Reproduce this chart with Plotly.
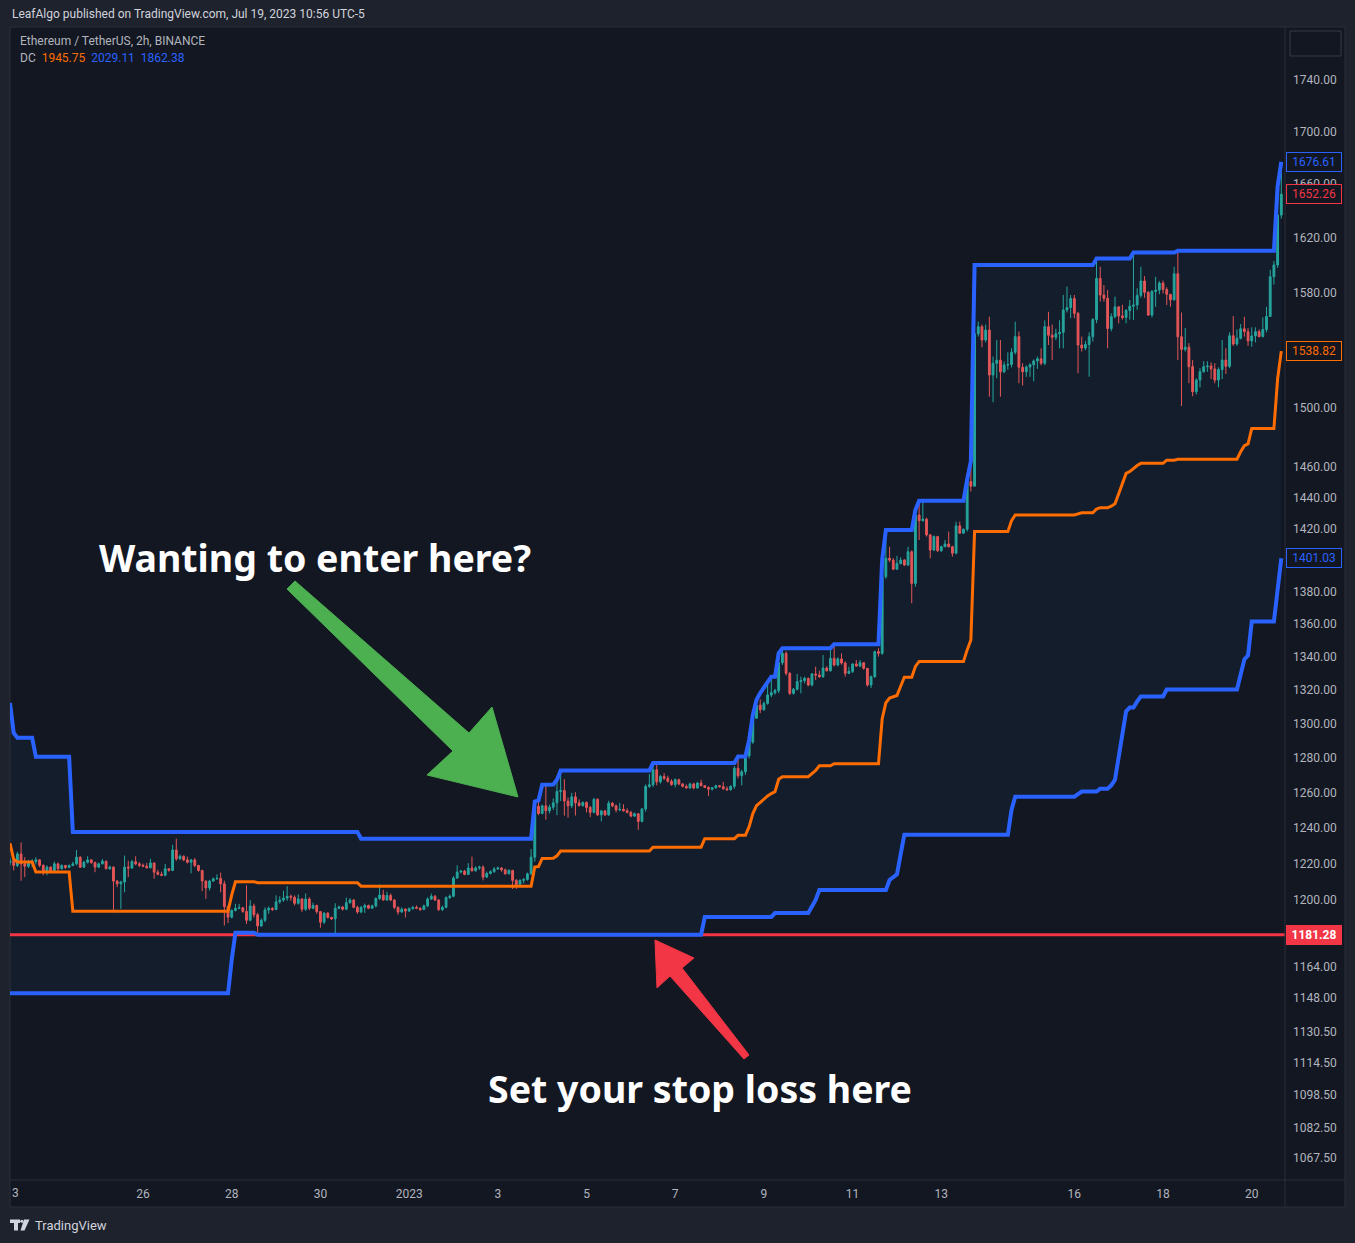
import numpy as np
import pandas as pd
import plotly.graph_objects as go

# ---------------- data (ETH/USDT, 2h bars) ----------------
START = "2022-12-23 00:00"
FIRST_OPEN = 1220.5

# one row = one day (12 bars of 2h)
CLOSE = [
    1221.5, 1218.9, 1225.3, 1219.8, 1218.5, 1220.5, 1221.0, 1222.0, 1219.0, 1215.2, 1218.0, 1215.5,
    1219.8, 1217.1, 1218.9, 1217.8, 1218.9, 1219.8, 1223.5, 1218.0, 1220.7, 1222.0, 1220.5, 1218.0,
    1219.8, 1221.3, 1217.1, 1218.0, 1210.3, 1208.8, 1209.8, 1218.0, 1217.5, 1221.0, 1219.8, 1219.0,
    1218.5, 1217.6, 1220.3, 1215.2, 1214.0, 1213.5, 1217.1, 1216.2, 1227.5, 1222.6, 1224.0, 1222.0,
    1220.7, 1222.0, 1218.9, 1216.2, 1210.3, 1206.6, 1210.3, 1211.6, 1211.8, 1208.8, 1196.4, 1190.7,
    1194.3, 1195.5, 1195.8, 1193.8, 1189.0, 1196.7, 1192.0, 1186.0, 1189.0, 1194.6, 1195.5, 1194.8,
    1199.0, 1200.0, 1201.0, 1202.0, 1201.5, 1198.2, 1200.5, 1195.0, 1200.5, 1195.5, 1197.0, 1193.7,
    1188.0, 1192.8, 1190.5, 1189.8, 1195.5, 1196.2, 1195.0, 1198.5, 1200.0, 1196.0, 1193.5, 1196.0,
    1197.0, 1195.5, 1196.8, 1200.8, 1202.7, 1200.0, 1202.5, 1200.0, 1196.0, 1193.5, 1195.0, 1194.0,
    1195.3, 1196.0, 1195.5, 1194.8, 1196.8, 1200.5, 1202.0, 1200.0, 1194.8, 1196.0, 1201.3, 1202.0,
    1212.0, 1215.3, 1215.8, 1214.0, 1217.5, 1216.0, 1217.5, 1218.0, 1212.5, 1214.5, 1215.5, 1217.0,
    1217.5, 1216.5, 1214.3, 1216.2, 1210.7, 1208.5, 1210.7, 1211.2, 1214.3, 1223.5, 1252.0, 1248.0,
    1252.3, 1249.5, 1251.5, 1254.0, 1260.5, 1261.0, 1255.0, 1252.3, 1257.4, 1254.0, 1252.5, 1254.2,
    1251.4, 1248.6, 1256.0, 1247.2, 1249.4, 1247.2, 1253.8, 1252.3, 1250.0, 1250.3, 1249.5, 1248.6,
    1246.5, 1247.8, 1243.5, 1250.5, 1263.4, 1264.3, 1272.9, 1266.0, 1269.1, 1268.0, 1266.3, 1264.4,
    1267.2, 1264.8, 1263.4, 1262.5, 1264.8, 1262.5, 1265.3, 1263.8, 1262.8, 1261.8, 1262.6, 1263.8,
    1263.2, 1262.0, 1261.5, 1263.4, 1273.8, 1269.5, 1271.8, 1281.0, 1289.0, 1303.0, 1310.8, 1308.0,
    1311.8, 1316.8, 1318.2, 1319.4, 1336.2, 1341.9, 1329.8, 1317.8, 1320.2, 1324.8, 1325.5, 1326.8,
    1322.8, 1329.4, 1328.8, 1327.8, 1333.0, 1331.4, 1338.9, 1334.8, 1338.5, 1336.0, 1329.8, 1331.0,
    1335.4, 1334.2, 1336.2, 1332.8, 1322.8, 1327.8, 1342.9, 1341.9, 1389.3, 1401.0, 1399.8, 1394.0,
    1397.7, 1399.8, 1396.7, 1405.1, 1385.1, 1428.7, 1425.0, 1426.0, 1415.9, 1406.2, 1414.8, 1405.8,
    1408.3, 1410.1, 1408.3, 1404.2, 1421.7, 1417.0, 1419.5, 1450.5, 1447.5, 1551.0, 1556.0, 1546.6,
    1553.6, 1522.3, 1530.4, 1532.5, 1524.5, 1529.2, 1529.6, 1538.0, 1549.0, 1527.6, 1524.5, 1527.8,
    1529.4, 1532.0, 1533.5, 1530.4, 1556.0, 1550.0, 1548.5, 1551.0, 1552.0, 1567.8, 1569.5, 1576.0,
    1565.4, 1543.1, 1541.0, 1543.5, 1548.9, 1561.0, 1590.4, 1578.5, 1576.1, 1554.7, 1563.0, 1570.0,
    1563.6, 1562.5, 1567.5, 1570.5, 1571.3, 1578.2, 1588.5, 1580.4, 1564.2, 1581.0, 1582.0, 1587.0,
    1582.5, 1579.0, 1575.0, 1593.8, 1548.9, 1540.0, 1541.6, 1528.0, 1510.8, 1518.8, 1524.5, 1528.0,
    1528.5, 1526.5, 1518.8, 1526.0, 1532.6, 1528.3, 1549.6, 1543.8, 1547.8, 1554.5, 1552.5, 1546.0,
    1549.5, 1552.5, 1549.0, 1554.0, 1563.2, 1591.6, 1600.1, 1636.7, 1652.26,
]
HIGH = [
    1223.0, 1222.8, 1226.5, 1231.7, 1223.5, 1222.0, 1222.5, 1223.5, 1222.5, 1219.5, 1219.0, 1218.5,
    1221.0, 1220.5, 1219.5, 1219.3, 1219.5, 1221.0, 1227.5, 1224.0, 1221.5, 1224.0, 1222.3, 1221.0,
    1220.5, 1222.5, 1221.5, 1218.8, 1218.5, 1211.0, 1210.5, 1224.4, 1221.5, 1222.0, 1224.0, 1220.8,
    1220.0, 1220.3, 1222.6, 1220.5, 1216.5, 1215.5, 1219.8, 1217.5, 1230.4, 1233.8, 1225.0, 1224.5,
    1223.8, 1222.5, 1223.0, 1219.3, 1216.5, 1210.8, 1211.0, 1212.2, 1214.0, 1215.0, 1210.5, 1197.0,
    1195.0, 1197.9, 1197.9, 1196.2, 1208.0, 1200.0, 1198.0, 1193.0, 1190.0, 1196.0, 1196.5, 1196.0,
    1202.5, 1202.0, 1205.0, 1207.5, 1203.0, 1202.5, 1203.0, 1201.0, 1203.5, 1201.5, 1198.5, 1197.5,
    1194.0, 1193.5, 1193.5, 1191.0, 1198.2, 1197.0, 1196.8, 1201.3, 1201.0, 1200.5, 1197.0, 1196.8,
    1198.0, 1197.5, 1197.5, 1201.5, 1208.5, 1205.5, 1204.5, 1203.5, 1200.5, 1196.5, 1196.0, 1195.5,
    1196.0, 1196.8, 1197.0, 1196.0, 1197.5, 1201.5, 1203.5, 1202.7, 1200.3, 1197.0, 1202.0, 1203.0,
    1213.0, 1219.0, 1216.5, 1216.5, 1220.2, 1223.8, 1218.5, 1218.8, 1219.0, 1215.5, 1216.3, 1218.0,
    1218.3, 1218.0, 1217.2, 1216.8, 1216.5, 1211.5, 1211.3, 1212.0, 1215.0, 1228.0, 1254.8, 1255.4,
    1253.0, 1264.3, 1253.0, 1256.5, 1267.2, 1272.5, 1267.5, 1257.0, 1259.7, 1260.0, 1256.0, 1254.8,
    1254.8, 1252.3, 1256.8, 1256.5, 1250.0, 1250.0, 1255.2, 1254.5, 1253.0, 1254.0, 1253.2, 1250.8,
    1249.5, 1248.5, 1248.2, 1251.0, 1264.5, 1270.5, 1276.8, 1276.0, 1270.0, 1271.0, 1269.5, 1267.5,
    1268.0, 1267.8, 1265.3, 1264.5, 1265.5, 1265.5, 1266.0, 1267.2, 1264.2, 1263.4, 1263.0, 1264.3,
    1264.2, 1266.0, 1263.4, 1264.0, 1275.0, 1280.6, 1273.0, 1282.0, 1290.3, 1305.0, 1313.8, 1314.2,
    1313.0, 1325.0, 1327.8, 1320.5, 1342.0, 1345.0, 1343.0, 1330.5, 1321.0, 1329.4, 1327.8, 1327.8,
    1327.2, 1330.0, 1333.8, 1331.4, 1340.9, 1334.0, 1343.9, 1347.4, 1339.5, 1341.9, 1337.0, 1333.8,
    1336.0, 1337.8, 1337.8, 1336.5, 1333.0, 1328.5, 1343.5, 1345.0, 1400.0, 1419.0, 1408.3, 1401.0,
    1402.5, 1401.6, 1400.5, 1408.3, 1406.0, 1432.0, 1438.0, 1437.9, 1427.0, 1416.5, 1415.5, 1415.3,
    1409.0, 1412.6, 1418.0, 1409.0, 1424.4, 1424.4, 1420.0, 1452.0, 1463.7, 1600.0, 1559.5, 1557.5,
    1557.5, 1563.0, 1535.0, 1546.6, 1546.6, 1531.5, 1538.0, 1540.8, 1559.5, 1552.5, 1530.4, 1529.0,
    1530.4, 1533.0, 1535.0, 1540.8, 1560.5, 1566.5, 1557.5, 1554.5, 1560.5, 1578.5, 1584.5, 1578.5,
    1578.5, 1566.5, 1549.0, 1546.0, 1552.0, 1562.0, 1604.8, 1598.8, 1585.6, 1582.1, 1565.4, 1577.3,
    1570.5, 1571.5, 1568.5, 1574.9, 1609.2, 1583.3, 1598.8, 1592.0, 1581.3, 1582.0, 1591.6, 1588.5,
    1588.8, 1584.0, 1578.0, 1598.8, 1610.4, 1566.0, 1555.0, 1544.5, 1532.6, 1520.0, 1527.0, 1531.8,
    1531.8, 1531.0, 1530.4, 1527.5, 1546.6, 1540.8, 1552.0, 1563.5, 1554.0, 1557.8, 1563.0, 1555.0,
    1555.5, 1555.5, 1554.0, 1562.5, 1570.0, 1596.5, 1603.0, 1658.0, 1676.61,
]
LOW = [
    1219.0, 1216.2, 1218.0, 1210.5, 1212.5, 1217.5, 1218.0, 1219.5, 1218.0, 1213.5, 1213.5, 1214.5,
    1215.0, 1216.0, 1216.8, 1217.0, 1217.5, 1218.5, 1219.0, 1217.5, 1217.5, 1220.0, 1219.8, 1215.2,
    1217.5, 1219.5, 1216.8, 1216.5, 1193.4, 1207.0, 1195.2, 1204.2, 1212.5, 1217.0, 1219.0, 1218.0,
    1218.0, 1217.2, 1217.4, 1211.6, 1213.5, 1213.0, 1213.0, 1215.5, 1215.8, 1221.5, 1222.0, 1221.3,
    1220.0, 1214.6, 1218.0, 1215.5, 1204.8, 1200.6, 1205.2, 1209.8, 1211.0, 1204.2, 1186.2, 1187.5,
    1190.0, 1193.8, 1195.0, 1193.0, 1187.0, 1188.5, 1190.5, 1181.28, 1185.5, 1188.0, 1192.5, 1194.0,
    1194.5, 1198.0, 1199.0, 1199.5, 1199.5, 1197.0, 1197.5, 1193.5, 1194.0, 1194.5, 1195.0, 1192.5,
    1185.0, 1187.0, 1190.0, 1189.2, 1181.8, 1195.0, 1194.3, 1194.5, 1198.0, 1195.5, 1192.5, 1192.8,
    1193.0, 1195.0, 1195.3, 1196.0, 1200.0, 1199.5, 1199.5, 1199.3, 1195.0, 1192.0, 1193.0, 1190.5,
    1193.5, 1194.8, 1195.0, 1194.0, 1194.5, 1196.0, 1200.0, 1199.5, 1194.0, 1194.0, 1195.5, 1200.5,
    1201.5, 1211.5, 1214.5, 1213.5, 1213.8, 1215.5, 1215.5, 1216.5, 1210.7, 1212.0, 1214.0, 1214.8,
    1216.5, 1215.5, 1213.8, 1214.0, 1206.0, 1206.0, 1208.0, 1209.0, 1210.5, 1213.8, 1221.0, 1247.0,
    1247.5, 1244.5, 1248.0, 1250.0, 1247.0, 1255.0, 1246.8, 1245.6, 1251.0, 1246.8, 1251.8, 1251.8,
    1248.6, 1245.9, 1248.0, 1246.5, 1243.5, 1246.5, 1246.5, 1251.5, 1248.6, 1249.3, 1249.0, 1248.0,
    1245.8, 1246.0, 1238.7, 1243.0, 1249.0, 1262.5, 1263.0, 1264.0, 1265.0, 1267.0, 1265.5, 1263.8,
    1262.8, 1264.0, 1262.8, 1262.0, 1262.0, 1261.8, 1262.0, 1263.4, 1262.4, 1257.8, 1261.0, 1262.0,
    1262.8, 1261.5, 1260.8, 1261.0, 1262.0, 1268.0, 1264.0, 1270.0, 1279.5, 1288.0, 1305.0, 1306.0,
    1307.5, 1311.0, 1315.5, 1317.0, 1318.0, 1334.8, 1328.5, 1316.8, 1317.0, 1319.5, 1317.8, 1323.8,
    1322.0, 1322.0, 1325.8, 1327.0, 1327.0, 1330.8, 1330.8, 1334.0, 1334.0, 1335.0, 1327.8, 1329.5,
    1330.0, 1333.8, 1333.5, 1332.0, 1321.8, 1321.0, 1327.0, 1339.9, 1341.0, 1388.0, 1398.5, 1393.5,
    1394.0, 1397.0, 1396.0, 1396.0, 1372.7, 1383.0, 1412.6, 1424.5, 1414.8, 1401.0, 1405.5, 1405.0,
    1405.0, 1408.0, 1407.8, 1402.0, 1403.5, 1416.5, 1416.5, 1418.0, 1444.0, 1449.0, 1549.0, 1541.5,
    1545.0, 1507.4, 1503.6, 1520.0, 1507.4, 1523.5, 1526.0, 1527.5, 1536.5, 1516.6, 1515.0, 1521.0,
    1521.0, 1518.0, 1526.5, 1529.0, 1529.0, 1543.1, 1532.6, 1546.6, 1540.8, 1540.8, 1566.0, 1562.0,
    1562.0, 1523.5, 1538.5, 1539.5, 1521.1, 1545.5, 1558.5, 1573.7, 1573.7, 1540.8, 1552.8, 1562.0,
    1558.3, 1561.0, 1558.3, 1561.0, 1560.7, 1568.0, 1576.5, 1576.5, 1563.6, 1562.5, 1570.0, 1579.0,
    1579.7, 1571.3, 1570.1, 1574.5, 1532.6, 1501.0, 1538.5, 1516.6, 1507.7, 1509.0, 1513.8, 1524.0,
    1524.5, 1519.5, 1516.6, 1513.8, 1519.5, 1523.0, 1527.0, 1542.5, 1542.5, 1547.0, 1549.0, 1542.5,
    1542.0, 1545.0, 1548.5, 1548.5, 1552.0, 1562.8, 1586.0, 1598.0, 1634.0,
]

# Donchian channel, (bar index, value) where the level changes
DC_UPPER = [(0, 1312.1), (1, 1294.4), (2, 1291.5), (6, 1291.5), (7, 1280.4), (16, 1280.4),
            (17, 1237.6), (94, 1237.6), (95, 1233.8), (141, 1233.8), (142, 1254.8), (143, 1255.4),
            (144, 1264.3), (147, 1264.5), (148, 1267.2), (149, 1272.5), (173, 1272.5), (174, 1276.8),
            (196, 1276.8), (197, 1280.6), (199, 1280.6), (200, 1290.3), (201, 1305.0), (202, 1314.0),
            (203, 1318.0), (204, 1321.0), (205, 1325.0), (206, 1327.8), (207, 1327.8), (208, 1342.0),
            (209, 1345.0), (222, 1345.0), (223, 1347.4), (235, 1347.4), (236, 1400.0), (237, 1419.0),
            (244, 1419.0), (245, 1432.0), (246, 1438.0), (258, 1438.0), (259, 1452.0), (260, 1464.0),
            (261, 1600.0), (293, 1600.0), (294, 1604.8), (303, 1604.8), (304, 1609.2), (315, 1609.2),
            (316, 1610.4), (342, 1610.4), (343, 1658.0), (344, 1676.61)]
DC_LOWER = [(0, 1150.3), (59, 1150.3), (60, 1168.0), (61, 1182.3), (66, 1182.3), (67, 1181.28),
            (187, 1181.28), (188, 1190.8), (206, 1190.8), (207, 1192.9), (216, 1192.9), (217, 1196.0),
            (218, 1200.0), (219, 1205.4), (237, 1205.4), (238, 1210.9), (239, 1212.5), (240, 1214.0),
            (241, 1225.0), (242, 1236.0), (270, 1236.0), (271, 1250.0), (272, 1257.5), (288, 1257.5),
            (289, 1259.0), (290, 1260.4), (294, 1260.4), (295, 1262.1), (297, 1262.1), (298, 1264.0),
            (299, 1267.2), (300, 1280.4), (301, 1295.0), (302, 1307.0), (303, 1309.4), (304, 1309.4),
            (305, 1313.0), (306, 1315.9), (312, 1315.9), (313, 1320.1), (332, 1320.1), (333, 1330.0),
            (334, 1338.2), (335, 1340.6), (336, 1361.4), (342, 1361.4), (343, 1381.3), (344, 1401.03)]
DC_BASIS = [(0, 1231.2), (1, 1222.35), (2, 1220.9), (6, 1220.9), (7, 1215.35), (16, 1215.35),
            (17, 1193.95), (59, 1193.95), (60, 1202.8), (61, 1209.95), (66, 1209.95), (67, 1209.44),
            (94, 1209.44), (95, 1207.54), (141, 1207.54), (142, 1218.04), (143, 1218.34), (144, 1222.79),
            (147, 1222.89), (148, 1224.24), (149, 1226.89), (173, 1226.89), (174, 1229.04), (187, 1229.04),
            (188, 1233.8), (196, 1233.8), (197, 1235.7), (199, 1235.7), (200, 1240.55), (201, 1247.9),
            (202, 1252.4), (203, 1254.4), (204, 1255.9), (205, 1257.9), (206, 1259.3), (207, 1260.35),
            (208, 1267.45), (209, 1268.95), (216, 1268.95), (217, 1270.5), (218, 1272.5), (219, 1275.2),
            (222, 1275.2), (223, 1276.4), (235, 1276.4), (236, 1302.7), (237, 1312.2), (238, 1314.95),
            (239, 1315.75), (240, 1316.5), (241, 1322.0), (242, 1327.5), (244, 1327.5), (245, 1334.0),
            (246, 1337.0), (258, 1337.0), (259, 1344.0), (260, 1350.0), (261, 1418.0), (270, 1418.0),
            (271, 1425.0), (272, 1428.75), (288, 1428.75), (289, 1429.5), (290, 1430.2), (293, 1430.2),
            (294, 1432.6), (295, 1433.45), (297, 1433.45), (298, 1434.4), (299, 1436.0), (300, 1442.6),
            (301, 1449.9), (302, 1455.9), (303, 1457.1), (304, 1459.3), (305, 1461.1), (306, 1462.55),
            (312, 1462.55), (313, 1464.65), (315, 1464.65), (316, 1465.25), (332, 1465.25), (333, 1470.2),
            (334, 1474.3), (335, 1475.5), (336, 1485.9), (342, 1485.9), (343, 1519.65), (344, 1538.82)]

STOP_LOSS = 1181.28
LAST_PRICE = 1652.26

Y_TICKS = [1740, 1700, 1660, 1620, 1580, 1540, 1500, 1460, 1440, 1420, 1400, 1380, 1360, 1340,
           1320, 1300, 1280, 1260, 1240, 1220, 1200, 1180, 1164, 1148, 1130.5, 1114.5, 1098.5,
           1082.5, 1067.5]
X_TICKS = ["2022-12-26", "2022-12-28", "2022-12-30", "2023-01-01", "2023-01-03", "2023-01-05",
           "2023-01-07", "2023-01-09", "2023-01-11", "2023-01-13", "2023-01-16", "2023-01-18",
           "2023-01-20"]
X_TICK_TEXT = ["26", "28", "30", "2023", "3", "5", "7", "9", "11", "13", "16", "18", "20"]

# ---------------- figure ----------------
times = pd.date_range(START, periods=len(CLOSE), freq="2h")
opens = [FIRST_OPEN] + CLOSE[:-1]
highs = [max(h, o, c) for h, o, c in zip(HIGH, opens, CLOSE)]
lows = [min(l, o, c) for l, o, c in zip(LOW, opens, CLOSE)]

W, H = 1355, 1243
PL, PR, PT, PB = 10, 1285, 27, 1180


def px(x):
    return (x - PL) / (PR - PL)


def py(y):
    return (PB - y) / (PB - PT)


BG = "#131722"
OUTER = "#1e222d"
SEP = "#2a2e39"
BLUE = "#2962ff"
ORANGE = "#ff6d00"
RED = "#f23645"
GREEN = "#26a69a"
CRED = "#ef5350"
TXT = "#b2b5be"
FONT = "Roboto, 'Liberation Sans', sans-serif"
BIG_FONT = "'Noto Sans', 'Open Sans', sans-serif"

x_start = times[0]
x_end = times[0] + pd.Timedelta(hours=2 * 345)


def line_xy(points):
    return [times[i] for i, _ in points], [v for _, v in points]


ux, uy = line_xy(DC_UPPER)
lx, ly = line_xy(DC_LOWER)
bx, by = line_xy(DC_BASIS)

fig = go.Figure()
fig.add_trace(go.Scatter(x=ux + lx[::-1], y=uy + ly[::-1], fill="toself",
                         fillcolor="rgba(33,150,243,0.05)", line=dict(width=0),
                         mode="lines", hoverinfo="skip", showlegend=False))
fig.add_trace(go.Scatter(x=[x_start, x_end], y=[STOP_LOSS, STOP_LOSS], mode="lines",
                         line=dict(color=RED, width=3), hoverinfo="skip", showlegend=False))
fig.add_trace(go.Candlestick(
    x=times, open=opens, high=highs, low=lows, close=CLOSE,
    increasing=dict(line=dict(color=GREEN, width=1), fillcolor=GREEN),
    decreasing=dict(line=dict(color=CRED, width=1), fillcolor=CRED),
    whiskerwidth=0, hoverinfo="skip", showlegend=False))
fig.add_trace(go.Scatter(x=bx, y=by, mode="lines", line=dict(color=ORANGE, width=3),
                         hoverinfo="skip", showlegend=False))
fig.add_trace(go.Scatter(x=ux, y=uy, mode="lines", line=dict(color=BLUE, width=4),
                         hoverinfo="skip", showlegend=False))
fig.add_trace(go.Scatter(x=lx, y=ly, mode="lines", line=dict(color=BLUE, width=4),
                         hoverinfo="skip", showlegend=False))

shapes = []
# chart panel
shapes.append(dict(type="rect", xref="paper", yref="paper", x0=px(10), x1=px(1345),
                   y0=py(1207), y1=py(27), fillcolor=BG, line=dict(color=SEP, width=1),
                   layer="below"))
shapes.append(dict(type="line", xref="paper", yref="paper", x0=px(1285), x1=px(1285),
                   y0=py(1207), y1=py(27), line=dict(color=SEP, width=1)))
shapes.append(dict(type="line", xref="paper", yref="paper", x0=px(10), x1=px(1345),
                   y0=py(1180), y1=py(1180), line=dict(color=SEP, width=1)))
# top-right button
shapes.append(dict(type="rect", xref="paper", yref="paper", x0=px(1290), x1=px(1341),
                   y0=py(56), y1=py(31), fillcolor=BG, line=dict(color="#363a45", width=1),
                   layer="above"))


def path(points):
    s = "M " + " L ".join(f"{px(a):.5f},{py(b):.5f}" for a, b in points) + " Z"
    return s


green_arrow = [(287, 589), (295, 581), (469, 733), (492, 707), (518, 797), (427, 775), (453, 751)]
red_arrow = [(655, 940), (694, 958), (682, 968), (749, 1055), (744, 1059), (670, 976), (657, 988)]
shapes.append(dict(type="path", xref="paper", yref="paper", path=path(green_arrow),
                   fillcolor="#4caf50", line=dict(color="#4caf50", width=1), layer="above"))
shapes.append(dict(type="path", xref="paper", yref="paper", path=path(red_arrow),
                   fillcolor=RED, line=dict(color=RED, width=1), layer="above"))

# TradingView logo (small)
LOGO = "#d1d4dc"
shapes.append(dict(type="path", xref="paper", yref="paper",
                   path=path([(10, 1219.5), (20, 1219.5), (20, 1223), (18, 1223), (18, 1230.5),
                              (14, 1230.5), (14, 1223), (10, 1223)]),
                   fillcolor=LOGO, line=dict(width=0)))
shapes.append(dict(type="circle", xref="paper", yref="paper", x0=px(20.3), x1=px(23.3),
                   y0=py(1222.8), y1=py(1219.8), fillcolor=LOGO, line=dict(width=0)))
shapes.append(dict(type="path", xref="paper", yref="paper",
                   path=path([(24, 1219.5), (29.5, 1219.5), (24.5, 1230.5), (20.5, 1230.5)]),
                   fillcolor=LOGO, line=dict(width=0)))

ann = []
ann.append(dict(x=px(10), y=py(14), xref="paper", yref="paper", xanchor="left", yanchor="middle",
                text="LeafAlgo published on TradingView.com, Jul 19, 2023 10:56 UTC-5",
                font=dict(family=FONT, size=12, color="#d1d4dc"), showarrow=False))
ann.append(dict(x=px(18), y=py(41), xref="paper", yref="paper", xanchor="left", yanchor="middle",
                text="Ethereum / TetherUS, 2h, BINANCE",
                font=dict(family=FONT, size=12, color=TXT), showarrow=False))
ann.append(dict(x=px(18), y=py(58), xref="paper", yref="paper", xanchor="left", yanchor="middle",
                text=(f"DC  <span style='color:{ORANGE}'>1945.75</span>  "
                      f"<span style='color:{BLUE}'>2029.11</span>  "
                      f"<span style='color:{BLUE}'>1862.38</span>"),
                font=dict(family=FONT, size=12, color=TXT), showarrow=False))
ann.append(dict(x=px(10), y=py(1193), xref="paper", yref="paper", xanchor="left", yanchor="middle",
                text="3", font=dict(family=FONT, size=12, color=TXT), showarrow=False))
ann.append(dict(x=px(33), y=py(1225), xref="paper", yref="paper", xanchor="left", yanchor="middle",
                text="TradingView", font=dict(family=FONT, size=13, color=LOGO), showarrow=False))
ann.append(dict(x=px(315), y=py(557), xref="paper", yref="paper", xanchor="center",
                yanchor="middle", text="<b>Wanting to enter here?</b>",
                font=dict(family=BIG_FONT, size=37.5, color="#ffffff"), showarrow=False))
ann.append(dict(x=px(700), y=py(1088), xref="paper", yref="paper", xanchor="center",
                yanchor="middle", text="<b>Set your stop loss here</b>",
                font=dict(family=BIG_FONT, size=37.5, color="#ffffff"), showarrow=False))

# price scale labels
price_labels = [(DC_UPPER[-1][1], BLUE, False), (LAST_PRICE, RED, False),
                (DC_BASIS[-1][1], ORANGE, False), (DC_LOWER[-1][1], BLUE, False),
                (STOP_LOSS, RED, True)]
for val, col, filled in price_labels:
    ann.append(dict(x=px(1314), y=np.log10(val), xref="paper", yref="y", xanchor="center",
                    yanchor="middle",
                    text=(f"<b>{val:.2f}</b>" if filled else f"{val:.2f}"),
                    font=dict(family=FONT, size=12, color="#ffffff" if filled else col),
                    bgcolor=col if filled else BG, bordercolor=col, borderwidth=1, borderpad=2,
                    width=50, showarrow=False))

fig.update_layout(
    width=W, height=H, autosize=False,
    paper_bgcolor=OUTER, plot_bgcolor=BG,
    margin=dict(l=PL, r=W - PR, t=PT, b=H - PB),
    showlegend=False, shapes=shapes, annotations=ann,
    xaxis=dict(type="date", range=[x_start, x_end], rangeslider=dict(visible=False),
               showgrid=False, zeroline=False, showline=False,
               tickvals=pd.to_datetime(X_TICKS), ticktext=X_TICK_TEXT, ticks="",
               ticklabelstandoff=5,
               tickfont=dict(family=FONT, size=12, color=TXT)),
    yaxis=dict(type="log", side="right", range=[np.log10(1057.0), np.log10(1782.3)],
               showgrid=False, zeroline=False, showline=False,
               tickvals=Y_TICKS, ticktext=[f"{v:.2f}" for v in Y_TICKS], ticks="",
               ticklabelstandoff=7,
               tickfont=dict(family=FONT, size=12, color=TXT)),
    font=dict(family=FONT),
)

fig.write_html(
    "out.html",
    config={"displayModeBar": False},
    post_script=("document.body.style.margin='0px';"
                 "document.body.style.background='#1e222d';"
                 "document.body.style.overflow='hidden';"),
)
